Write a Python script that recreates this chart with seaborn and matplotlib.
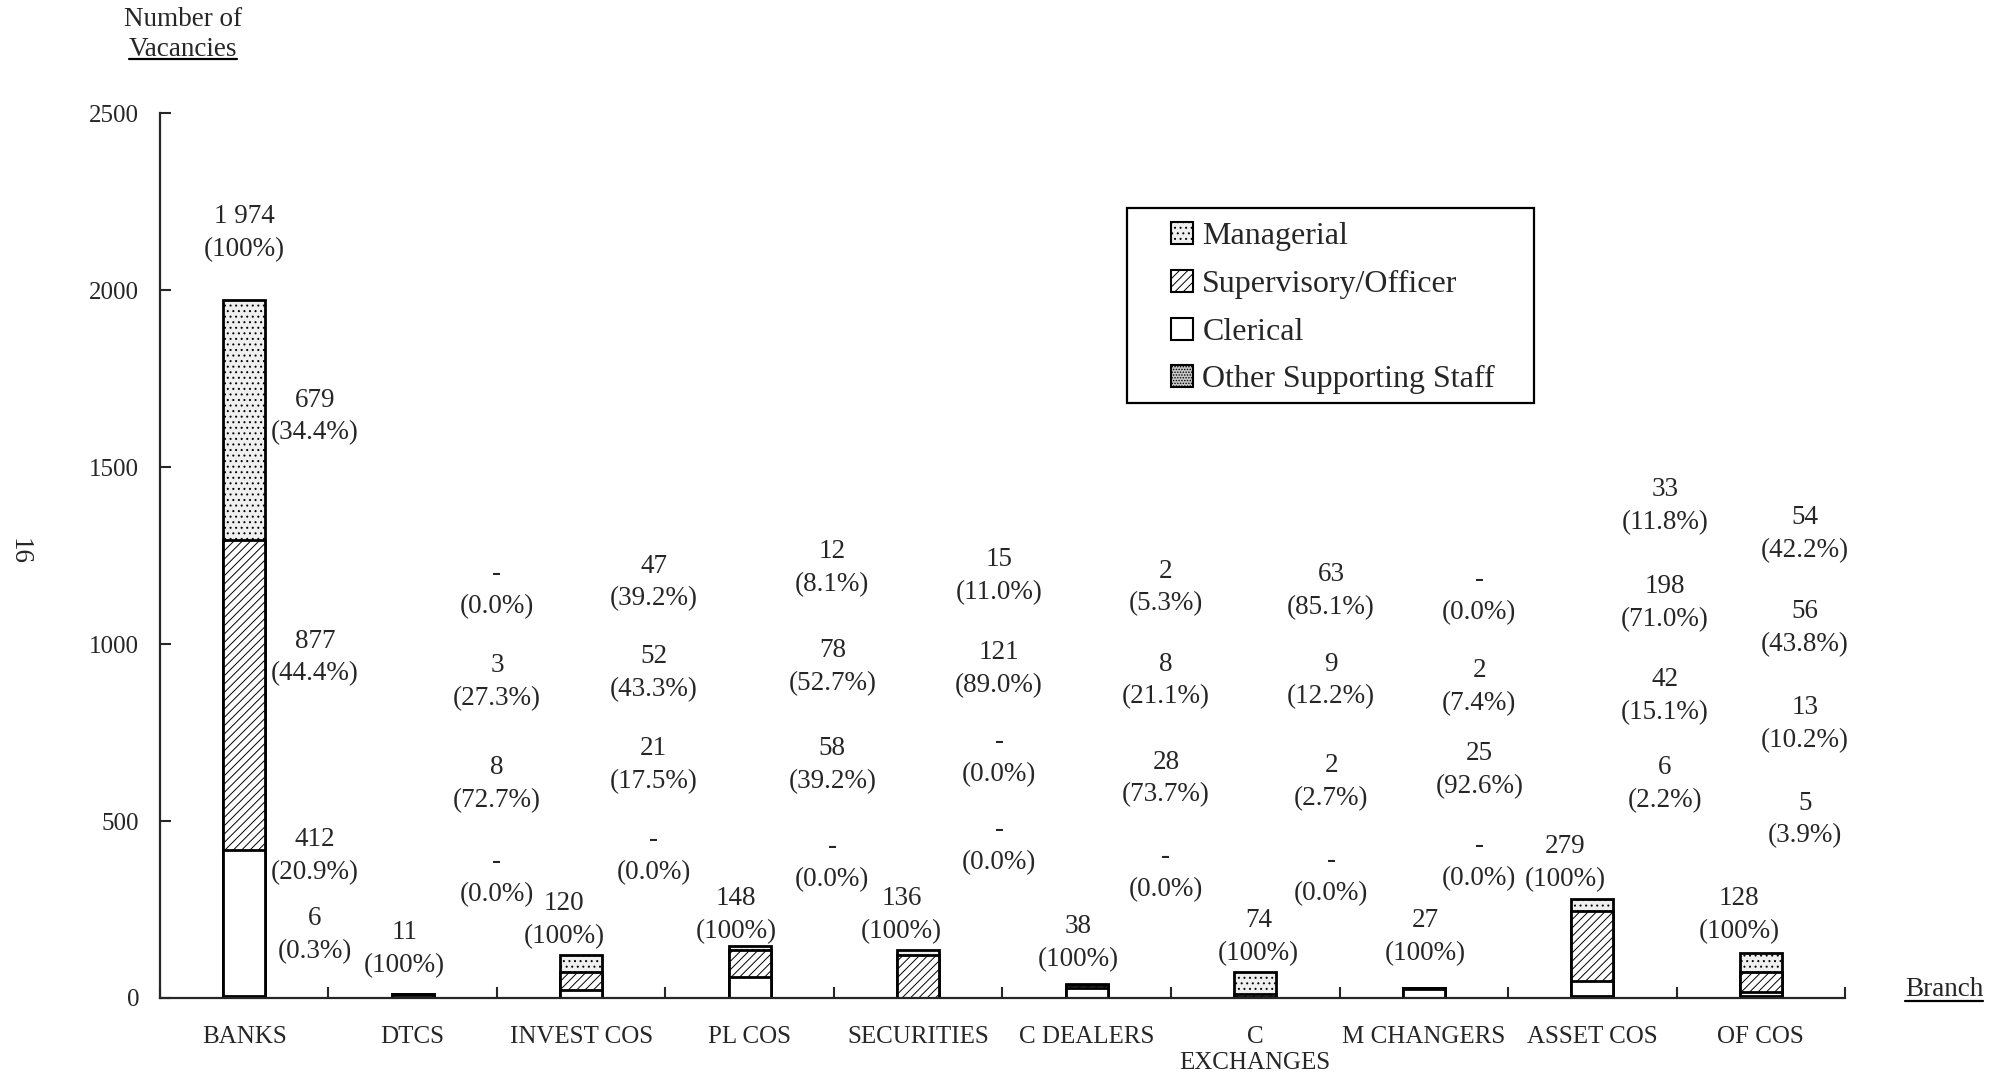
#!/usr/bin/env python3
"""
Vacancies by branch and job level - stacked bar chart
"""
import numpy as np
import pandas as pd
import matplotlib
matplotlib.use('Agg')
import matplotlib.pyplot as plt
import seaborn as sns
from matplotlib.patches import Patch, Rectangle
from matplotlib.lines import Line2D

# data
branches = ['BANKS', 'DTCS', 'INVEST COS', 'PL COS', 'SECURITIES', 'C DEALERS',
            'C\nEXCHANGES', 'M CHANGERS', 'ASSET COS', 'OF COS']
managerial = [679, 0, 47, 12, 15, 2, 63, 0, 33, 54]
supervisory = [877, 3, 52, 78, 121, 8, 9, 2, 198, 56]
clerical = [412, 8, 21, 58, 0, 28, 2, 25, 42, 13]
other_staff = [6, 0, 0, 0, 0, 0, 0, 0, 6, 5]
pct_managerial = [34.4, 0.0, 39.2, 8.1, 11.0, 5.3, 85.1, 0.0, 11.8, 42.2]
pct_supervisory = [44.4, 27.3, 43.3, 52.7, 89.0, 21.1, 12.2, 7.4, 71.0, 43.8]
pct_clerical = [20.9, 72.7, 17.5, 39.2, 0.0, 73.7, 2.7, 92.6, 15.1, 10.2]
pct_other = [0.3, 0.0, 0.0, 0.0, 0.0, 0.0, 0.0, 0.0, 2.2, 3.9]

# annotation placement (hand-placed in the original)
total_label_dx = [0, -0.05, -0.1, -0.08, -0.1, -0.05, 0.02, 0.01, -0.16, -0.13]
total_label_y = [2161, 137, 220, 234, 234, 155, 173, 173, 382, 234]
seg_label_dx = [0.42, 0.5, 0.43, 0.49, 0.48, 0.47, 0.45, 0.33, 0.43, 0.26]
seg_label_y_m = [1643, 1153, 1174, 1214, 1192, 1160, 1149, 1135, 1390, 1311]
seg_label_y_s = [962, 893, 918, 936, 929, 897, 897, 879, 1117, 1045]
seg_label_y_c = [400, 605, 659, 659, 677, 620, 609, 645, 854, 774]
seg_label_y_o = [177, 339, 400, 382, 428, 353, 342, 385, 605, 504]

sns.set_style('ticks')
plt.rcParams['font.family'] = ['Liberation Serif', 'DejaVu Serif']
plt.rcParams['hatch.linewidth'] = 0.7

df = pd.DataFrame({
    'branch': branches,
    'managerial': managerial,
    'supervisory': supervisory,
    'clerical': clerical,
    'other': other_staff,
})
df['total'] = df[['managerial', 'supervisory', 'clerical', 'other']].sum(axis=1)
df['cum_s'] = df['supervisory'] + df['clerical'] + df['other']
df['cum_c'] = df['clerical'] + df['other']
df['cum_o'] = df['other']

fig = plt.figure(figsize=(19.99, 10.8), dpi=100)
ax = fig.add_axes([0.080, 0.076, 0.843, 0.819])

layers = [
    ('total', 'Managerial', '#efefef', '...'),
    ('cum_s', 'Supervisory/Officer', 'white', '////'),
    ('cum_c', 'Clerical', 'white', ''),
    ('cum_o', 'Other Supporting Staff', '#c8c8c8', '......'),
]
for col, name, fc, hatch in layers:
    sns.barplot(data=df, x='branch', y=col, color=fc, saturation=1,
                edgecolor='black', linewidth=2.0, hatch=hatch,
                width=0.25, errorbar=None, ax=ax)


def fmt_count(v):
    if v == 0:
        return '-'
    return f'{v:,}'.replace(',', ' ')


fs = 19.5
ls = 1.42
for i in range(len(branches)):
    ax.text(i + total_label_dx[i], total_label_y[i],
            f'{fmt_count(df.total[i])}\n(100%)',
            ha='center', va='center', fontsize=fs, linespacing=ls)
    segs = [(managerial, pct_managerial, seg_label_y_m),
            (supervisory, pct_supervisory, seg_label_y_s),
            (clerical, pct_clerical, seg_label_y_c),
            (other_staff, pct_other, seg_label_y_o)]
    for vals, pcts, ys in segs:
        ax.text(i + seg_label_dx[i], ys[i],
                f'{fmt_count(vals[i])}\n({pcts[i]:.1f}%)',
                ha='center', va='center', fontsize=fs, linespacing=ls)

# axes styling
ax.set_xlim(-0.5, 9.5)
ax.set_ylim(0, 2500)
ax.set_yticks(np.arange(0, 2501, 500))
ax.set_xticks(range(len(branches)))
ax.set_xticklabels(branches, fontsize=18, linespacing=1.25)
ax.set_xticks(np.arange(-0.5, 10, 1), minor=True)
ax.tick_params(axis='x', which='major', length=0, pad=20)
ax.tick_params(axis='x', which='minor', direction='in', length=8, width=1.5)
ax.tick_params(axis='y', direction='in', length=8, width=1.5, labelsize=18, pad=15)
ax.set_xlabel('')
ax.set_ylabel('')
sns.despine(ax=ax)
for s in ['left', 'bottom']:
    ax.spines[s].set_linewidth(1.6)

# legend: frame drawn separately so the padding matches the original
ax.add_patch(Rectangle((0.5739, 0.673), 0.2415, 0.2195, transform=ax.transAxes,
                       facecolor='white', edgecolor='black', linewidth=1.6,
                       zorder=4, clip_on=False))
handles = [Patch(facecolor=fc, edgecolor='black', hatch=h, linewidth=1.5, label=n)
           for _, n, fc, h in layers]
leg = ax.legend(handles=handles, loc='upper left', bbox_to_anchor=(0.600, 0.877),
                fontsize=23, frameon=False,
                handlelength=0.68, handleheight=0.68, handletextpad=0.3,
                labelspacing=0.58, borderpad=0, borderaxespad=0)
leg.set_zorder(5)

# extra page text
fig.text(183 / 1999, 1 - 19 / 1080, 'Number of', ha='center', va='center', fontsize=fs)
t_vac = fig.text(183 / 1999, 1 - 49 / 1080, 'Vacancies', ha='center', va='center', fontsize=fs)
t_br = fig.text(1944 / 1999, 1 - 990 / 1080, 'Branch', ha='center', va='center', fontsize=fs)
fig.text(19 / 1999, 1 - 551 / 1080, '16', ha='center', va='center', fontsize=fs, rotation=270)

# underline some labels
fig.canvas.draw()
renderer = fig.canvas.get_renderer()
for t in [t_vac, t_br]:
    bb = t.get_window_extent(renderer).transformed(fig.transFigure.inverted())
    y = bb.y0 + 2 / 1080
    fig.add_artist(Line2D([bb.x0, bb.x1], [y, y], color='black', linewidth=1.6,
                          transform=fig.transFigure))

fig.savefig('out.png', dpi=100, facecolor='white')
